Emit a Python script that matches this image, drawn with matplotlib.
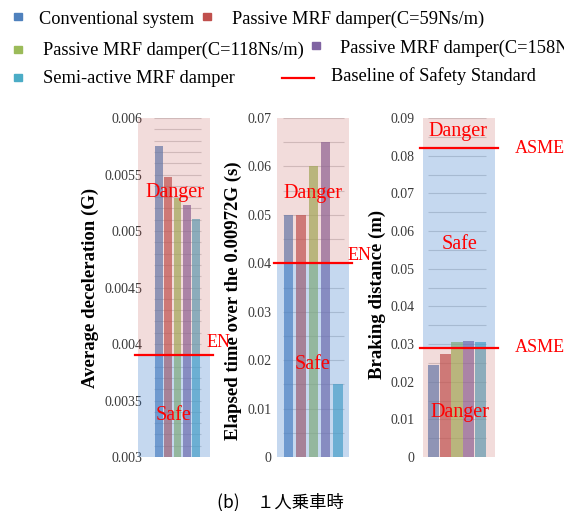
import numpy as np
import matplotlib.pyplot as plt
from matplotlib.patches import Rectangle
from matplotlib.lines import Line2D

plt.rcParams['font.family'] = ['Liberation Serif', 'DejaVu Serif']

SERIES = ['Conventional system',
          'Passive MRF damper(C=59Ns/m)',
          'Passive MRF damper(C=118Ns/m)',
          'Passive MRF damper(C=158Ns/m)',
          'Semi-active MRF damper']
COLORS = ['#4F81BD', '#C0504D', '#9BBB59', '#8064A2', '#4BACC6']

# one-passenger case
decel = [0.00575, 0.00548, 0.00529, 0.00523, 0.00511]
elapsed = [0.050, 0.050, 0.060, 0.065, 0.015]
braking = [0.0245, 0.0273, 0.0306, 0.0309, 0.0305]

decel_ticks = [0.003, 0.0035, 0.004, 0.0045, 0.005, 0.0055, 0.006]
elapsed_ticks = [0, 0.01, 0.02, 0.03, 0.04, 0.05, 0.06, 0.07]
braking_ticks = [0, 0.01, 0.02, 0.03, 0.04, 0.05, 0.06, 0.07, 0.08, 0.09]

EN_DECEL = 0.0039
EN_ELAPSED = 0.04
ASME_UPPER = 0.082
ASME_LOWER = 0.029

DANGER = '#C0504D'
SAFE = '#4180CD'
RED = '#FF0000'

W, H = 564, 511


def px_axes(fig, left, right, top=118, bottom=457):
    return fig.add_axes([left / W, 1 - bottom / H, (right - left) / W, (bottom - top) / H])


def setup(ax, values, ylim, ticks, grid_step, xlim, width, pad, label, label_xy):
    x = np.arange(len(values))
    ax.set_xlim(xlim)
    ax.set_ylim(ylim)
    for spine in ax.spines.values():
        spine.set_visible(False)
    ax.set_xticks([])
    ax.set_yticks(ticks)
    ax.set_yticklabels([f'{t:g}' for t in ticks])
    ax.tick_params(axis='y', length=0, pad=pad, labelsize=10, labelcolor='#3a3a3a')
    grid = np.arange(ylim[0], ylim[1] + grid_step / 2, grid_step)
    ax.hlines(grid, -0.5, len(values) - 0.5, colors='#d4d4d4', linewidth=0.8, zorder=1)
    ax.bar(x, values, width=width, color=COLORS, alpha=0.7, zorder=2)
    ax.set_ylabel(label, fontsize=13.5, fontweight='bold')
    ax.yaxis.set_label_coords(*label_xy)


def zone(ax, y0, y1, color, alpha):
    ax.axhspan(y0, y1, color=color, alpha=alpha, linewidth=0, zorder=3)


def baseline(ax, y):
    ax.plot([-0.04, 1.04], [y, y], transform=ax.get_yaxis_transform(),
            color=RED, linewidth=1.6, clip_on=False, zorder=4)


def tag(ax, x, y, s, size=14.5, ha='center'):
    ax.text(x, y, s, transform=ax.get_yaxis_transform(), color=RED,
            fontsize=size, ha=ha, va='center', zorder=5, clip_on=False)


fig = plt.figure(figsize=(W / 100, H / 100), dpi=100)

# average deceleration
ax1 = px_axes(fig, 138, 210)
setup(ax1, decel, (0.003, 0.006), decel_ticks, 0.0001, (-2.23, 5.49), 0.82, -3,
      'Average deceleration (G)', (-0.54, 0.5))
zone(ax1, EN_DECEL, 0.006, DANGER, 0.2)
zone(ax1, 0.003, EN_DECEL, SAFE, 0.3)
baseline(ax1, EN_DECEL)
tag(ax1, 0.51, 0.00534, 'Danger')
tag(ax1, 0.49, 0.00337, 'Safe')
tag(ax1, 0.95, 0.00401, 'EN', size=13, ha='left')

# elapsed time over 0.00972G
ax2 = px_axes(fig, 277, 349)
setup(ax2, elapsed, (0, 0.07), elapsed_ticks, 0.005, (-0.95, 4.89), 0.76, 4,
      'Elapsed time over the 0.00972G (s)', (-0.49, 0.46))
zone(ax2, EN_ELAPSED, 0.07, DANGER, 0.2)
zone(ax2, 0, EN_ELAPSED, SAFE, 0.3)
baseline(ax2, EN_ELAPSED)
tag(ax2, 0.5, 0.0545, 'Danger')
tag(ax2, 0.49, 0.019, 'Safe')
tag(ax2, 0.98, 0.0417, 'EN', size=13, ha='left')

# braking distance
ax3 = px_axes(fig, 423, 495)
setup(ax3, braking, (0, 0.09), braking_ticks, 0.005, (-0.9, 5.24), 0.94, 6,
      'Braking distance (m)', (-0.52, 0.48))
zone(ax3, ASME_UPPER, 0.09, DANGER, 0.2)
zone(ax3, ASME_LOWER, ASME_UPPER, SAFE, 0.3)
zone(ax3, 0, ASME_LOWER, DANGER, 0.2)
baseline(ax3, ASME_UPPER)
baseline(ax3, ASME_LOWER)
tag(ax3, 0.49, 0.0863, 'Danger')
tag(ax3, 0.51, 0.0563, 'Safe')
tag(ax3, 0.51, 0.0119, 'Danger')
tag(ax3, 1.28, ASME_UPPER, 'ASME', size=13, ha='left')
tag(ax3, 1.28, ASME_LOWER, 'ASME', size=13, ha='left')

# legend, laid out in three rows: (square x, square y, text x, text y, series)
rows = [(14, 16.5, 39, 19.5, 0), (203, 16.5, 232, 19.5, 1),
        (14, 50, 43, 50, 2), (312, 45.5, 340, 48.5, 3),
        (14, 78, 43, 78.5, 4)]
for sx, sy, tx, ty, i in rows:
    fig.add_artist(Rectangle((sx / W, 1 - (sy + 3.5) / H), 8 / W, 7 / H,
                             transform=fig.transFigure, color=COLORS[i]))
    fig.text(tx / W, 1 - ty / H, SERIES[i], fontsize=13.2, va='center', ha='left')
fig.add_artist(Line2D([282 / W, 314 / W], [1 - 78 / H, 1 - 78 / H],
                      transform=fig.transFigure, color=RED, linewidth=1.6))
fig.text(331 / W, 1 - 76.5 / H, 'Baseline of Safety Standard', fontsize=13.2,
         va='center', ha='left')

fig.text(280 / W, 1 - 502 / H, '(b)\u3000\uff11人乗車時', fontsize=12.5,
         ha='center', va='center', family=['Noto Sans CJK JP', 'DejaVu Sans'])

fig.savefig('out.png', dpi=100)
